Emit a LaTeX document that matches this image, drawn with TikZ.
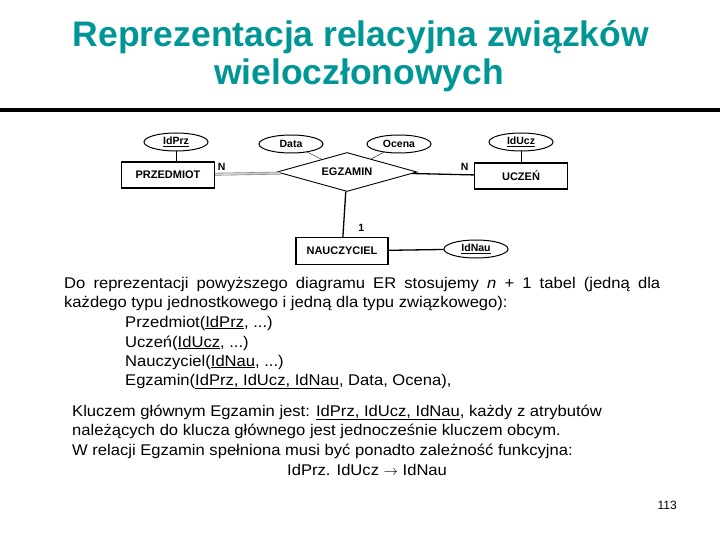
\documentclass[tikz,border=0pt]{standalone}
\usepackage{fontspec}
\setmainfont{Liberation Sans}
\newfontfamily\bodyfont[FakeStretch=1.07]{Liberation Sans}
\usepackage{xcolor}
\usetikzlibrary{shapes.geometric}
\definecolor{titlecol}{RGB}{0,150,150}

\begin{document}
\begin{tikzpicture}[x=1pt, y=-1pt,
    entity/.style={draw, line width=1.3pt, minimum width=93pt, minimum height=26pt, inner sep=0pt, font=\fontsize{11}{13}\selectfont\bfseries},
    attr/.style={draw, ellipse, line width=1pt, minimum width=64pt, minimum height=18pt, inner sep=0pt, font=\fontsize{10.5}{12}\selectfont\bfseries},
    rel/.style={draw, diamond, line width=0.9pt, minimum width=140pt, minimum height=39pt, aspect=3.6, inner sep=0pt, font=\fontsize{11}{13}\selectfont\bfseries},
    link/.style={line width=1.3pt},
    card/.style={font=\fontsize{10.5}{12}\selectfont\bfseries},
    headline/.style={anchor=base, inner sep=0pt, font=\fontsize{35.5}{40}\selectfont\bfseries, text=titlecol},
    body/.style={anchor=base west, inner sep=0pt, font=\bodyfont\fontsize{15.5}{18}\selectfont}
]
\useasboundingbox (0,0) rectangle (720,540);

% Title
\node[headline] (title1) at (361,47) {Reprezentacja relacyjna związków};
\node[headline] (title2) at (359,85) {wieloczłonowych};
\draw[line width=4pt] (0,110) -- (720,110);

% ER diagram
\node[entity] (przedmiot) at (168,175) {PRZEDMIOT};
\node[entity] (uczen) at (521,176) {UCZEŃ};
\node[entity, minimum width=92pt, minimum height=27pt] (nauczyciel) at (342,251) {NAUCZYCIEL};
\node[rel] (egzamin) at (347,172) {EGZAMIN};

\node[attr] (idprz) at (176,142) {\underline{IdPrz}};
\node[attr] (data) at (291,144) {Data};
\node[attr] (ocena) at (399,144) {Ocena};
\node[attr] (iducz) at (521,142) {\underline{IdUcz}};
\node[attr] (idnau) at (476,249) {\underline{IdNau}};

\draw[draw=gray, line width=0.6pt, double=gray!35, double distance=1.6pt] (przedmiot) -- node[card, black, above, pos=0.1] {N} (egzamin);
\draw[link] (egzamin) -- node[card, above, pos=0.85] {N} (uczen);
\draw[link] (egzamin) -- node[card, right, pos=0.8, xshift=11pt] {1} (nauczyciel);
\draw[link] (nauczyciel) -- (idnau);
\draw (idprz) -- (idprz |- przedmiot.north);
\draw (iducz) -- (iducz |- uczen.north);
\draw (data) -- (egzamin);
\draw (ocena) -- (egzamin);

% Text
\node[body] (t1) at (64,288) {\makebox[596pt][s]{Do reprezentacji powyższego diagramu ER stosujemy \textit{n} + 1 tabel (jedną dla}};
\node[body] (t2) at (64,307) {każdego typu jednostkowego i jedną dla typu związkowego):};
\node[body] (t3) at (125,327) {Przedmiot(\underline{IdPrz}, ...)};
\node[body] (t4) at (125,347) {Uczeń(\underline{IdUcz}, ...)};
\node[body] (t5) at (125,366) {Nauczyciel(\underline{IdNau}, ...)};
\node[body] (t6) at (125,385) {Egzamin(\underline{IdPrz, IdUcz, IdNau}, Data, Ocena),};
\node[body] (t7) at (72,416) {Kluczem głównym Egzamin jest: \underline{IdPrz, IdUcz, IdNau}, każdy z atrybutów};
\node[body] (t8) at (72,435) {należących do klucza głównego jest jednocześnie kluczem obcym.};
\node[body] (t9) at (72,455) {W relacji Egzamin spełniona musi być ponadto zależność funkcyjna:};
\node[body] (t10) at (287,475) {IdPrz. IdUcz $\rightarrow$ IdNau};
\node[anchor=base east, inner sep=0pt, font=\fontsize{12}{14}\selectfont] (page) at (677,509) {113};
\end{tikzpicture}
\end{document}
